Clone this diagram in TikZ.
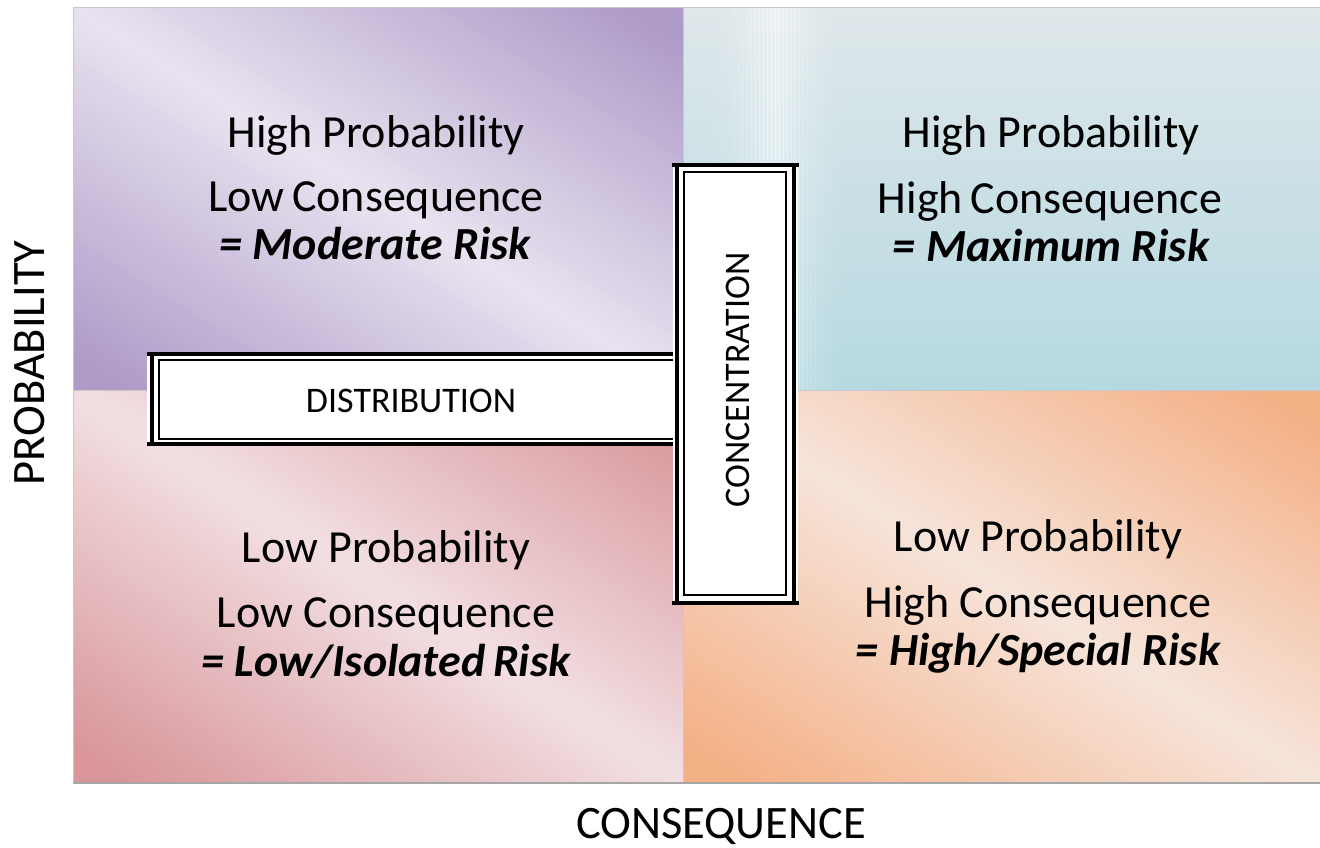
\documentclass[tikz,border=0pt]{standalone}
\usepackage{fontspec}
\setmainfont{Carlito}
\definecolor{tlD}{HTML}{AE9BC8}
\definecolor{tlL}{HTML}{E8E2EF}
\definecolor{blD}{HTML}{D8969A}
\definecolor{blL}{HTML}{F2DFE2}
\definecolor{brD}{HTML}{F4B085}
\definecolor{brL}{HTML}{F6E4DA}
\definecolor{trT}{HTML}{DFE7EA}
\definecolor{trB}{HTML}{B5D9E1}
\definecolor{edge}{HTML}{C8C8CC}
\tikzset{
  qtext/.style={anchor=base, font=\fontsize{46}{50}\selectfont, inner sep=0pt},
  qrisk/.style={anchor=base, font=\fontsize{46}{50}\selectfont\bfseries\itshape, inner sep=0pt},
  axislabel/.style={font=\fontsize{46.5}{50}\selectfont, inner sep=0pt},
  boxlabel/.style={font=\fontsize{36}{40}\selectfont, inner sep=0pt},
  thickbar/.style={line width=4.5pt, black},
  innerframe/.style={draw=black, line width=1.2pt, fill=white, inner sep=0pt},
  quad/.style={draw=edge, line width=1pt}
}
% diagonal gradient: light along the top-left/bottom-right diagonal, dark at the other two corners
% #1 x0, #2 y0, #3 width, #4 height, #5 dark colour, #6 light colour
\newcommand{\mydiagshade}[6]{%
  \begin{scope}
  \clip (#1,#2) rectangle ++(#3,#4);
  \foreach \k in {0,...,79}{
    \pgfmathsetmacro\sa{-1+\k/40}
    \pgfmathsetmacro\sb{-1+(\k+1.4)/40}
    \pgfmathsetmacro\sm{abs(-1+(\k+0.5)/40)}
    \pgfmathtruncatemacro\pc{min(100,110*\sm)}
    \fill[#5!\pc!#6] ({#1+#3*\sa},#2) -- ({#1+#3*\sb},#2) -- ({#1+#3*(\sb+1)},{#2+#4}) -- ({#1+#3*(\sa+1)},{#2+#4}) -- cycle;
  }
  \end{scope}}
\begin{document}
\begin{tikzpicture}[x=1pt,y=-1pt]
\useasboundingbox (0,0) rectangle (1320,848);
% quadrants
\mydiagshade{73}{8}{610}{382}{tlD}{tlL}
\mydiagshade{73}{390}{610}{392}{blD}{blL}
\mydiagshade{683}{390}{637}{392}{brD}{brL}
\begin{scope}[y=1pt]
\shade[top color=trT, bottom color=trB] (683,-8) rectangle (1320,-390);
\end{scope}
\foreach \k in {0,...,39}{
  \pgfmathsetmacro\op{0.45*(1-abs(\k-19.5)/20)^2}
  \fill[white, opacity=\op] ({695+4*\k},8) rectangle ({699.5+4*\k},390);
}
\draw[quad] (73,8) rectangle (683,390);
\draw[quad] (73,390) rectangle (683,782);
\draw[quad] (683,390) rectangle (1320,782);
\draw[quad] (683,8) rectangle (1320,390);
\draw[line width=1.5pt, color=black!35] (73,783) -- (1320,783);

% quadrant texts
\node[qtext] (tl1) at (376,147) {High Probability};
\node[qtext] (tl2) at (376,211) {Low\,Consequence};
\node[qrisk] (tl3) at (375,259) {= Moderate Risk};

\node[qtext] (tr1) at (1051,148) {High Probability};
\node[qtext] (tr2) at (1050,213) {High\,Consequence};
\node[qrisk] (tr3) at (1051,261) {= Maximum Risk};

\node[qtext] (bl1) at (386,562) {Low Probability};
\node[qtext] (bl2) at (386,627) {Low Consequence};
\node[qrisk] (bl3) at (386,676) {= Low/Isolated\,Risk};

\node[qtext] (br1) at (1038,551) {Low Probability};
\node[qtext] (br2) at (1038,617) {High Consequence};
\node[qrisk] (br3) at (1038,665) {= High/Special Risk};

% distribution box
\fill[white] (147,354) rectangle (679,444);
\node[innerframe, minimum width=517pt, minimum height=79pt] (dist) at (417.5,399.5) {};
\node[boxlabel] (disttext) at (411,401) {DISTRIBUTION};
\draw[thickbar] (147,354) -- (679,354);
\draw[thickbar] (147,444) -- (679,444);
\draw[thickbar] (152,356) -- (152,442);

% concentration box
\fill[white] (673,165) rectangle (798,603);
\node[innerframe, minimum width=102pt, minimum height=423pt] (conc) at (735,383.5) {};
\node[boxlabel, rotate=90] (conctext) at (738,380) {CONCENTRATION};
\draw[thickbar] (672,165) -- (799,165);
\draw[thickbar] (672,603) -- (799,603);
\draw[thickbar] (677,167) -- (677,601);
\draw[thickbar] (794,167) -- (794,601);

% axis labels
\node[axislabel, rotate=90] (prob) at (30,363) {PROBABILITY};
\node[axislabel, anchor=base] (cons) at (721,838) {CONSEQUENCE};
\end{tikzpicture}
\end{document}
